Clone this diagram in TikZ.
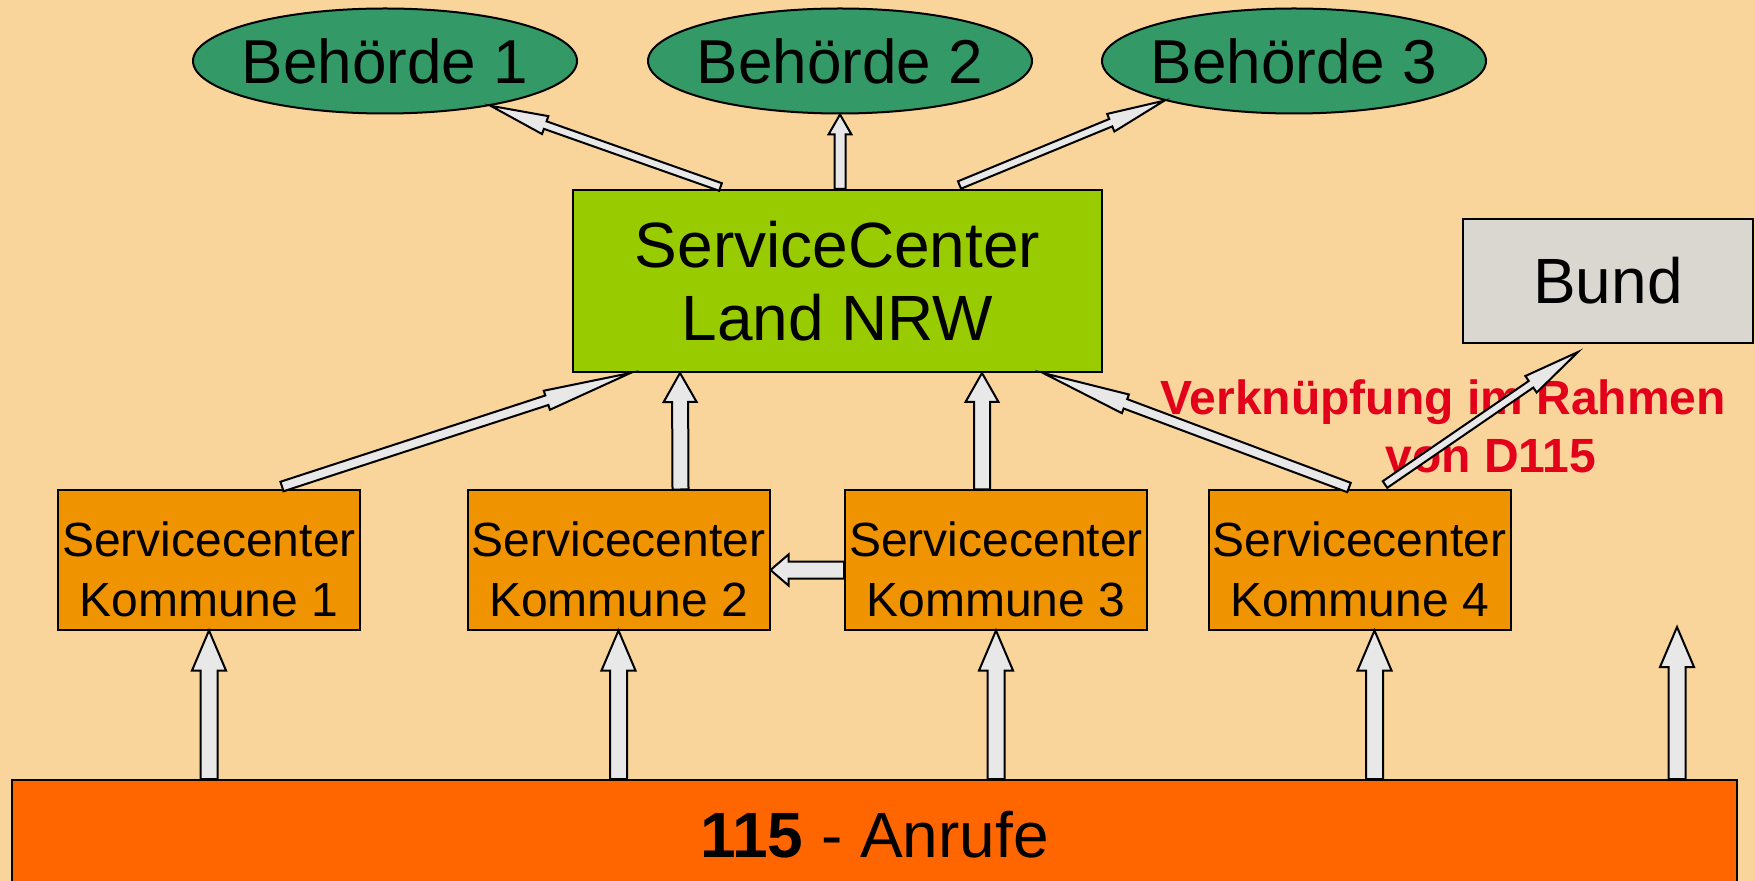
\documentclass[tikz,border=0pt]{standalone}
\usepackage{fontspec}
\setmainfont{Liberation Sans}
\usepackage{tikz}
\usetikzlibrary{shapes,positioning,calc}
\usepackage{xcolor}

\definecolor{bgorange}{HTML}{F9D59B}
\definecolor{behgreen}{HTML}{339966}
\definecolor{landgreen}{HTML}{99CC00}
\definecolor{komorange}{HTML}{F09300}
\definecolor{baror}{HTML}{FF6600}
\definecolor{bundgray}{HTML}{DAD7D1}
\definecolor{dred}{HTML}{E2001A}
\definecolor{arrgray}{HTML}{E8E8E8}

\tikzset{
  behoerde/.style={ellipse, draw, line width=1pt, fill=behgreen, inner xsep=-6pt, inner ysep=0pt,
    minimum width=192pt, minimum height=52.5pt, font=\fontsize{31}{37}\selectfont},
  landbox/.style={draw, line width=1pt, fill=landgreen, inner sep=0pt, align=center,
    minimum width=264.5pt, minimum height=91pt, font=\fontsize{32}{36.5}\selectfont},
  bundbox/.style={draw, line width=1pt, fill=bundgray, inner sep=0pt,
    minimum width=145pt, minimum height=62pt, font=\fontsize{32}{38}\selectfont},
  kommune/.style={draw, line width=1pt, fill=komorange, inner sep=0pt, align=center,
    minimum width=151pt, minimum height=69.5pt, font=\fontsize{24}{30}\selectfont},
  anrufe/.style={draw, line width=1pt, fill=baror, inner sep=0pt,
    minimum width=862.5pt, minimum height=55pt, font=\fontsize{32}{38}\selectfont},
  redtext/.style={text=dred, inner sep=0pt, align=left, font=\fontsize{24}{29}\selectfont\bfseries},
  arrowbody/.style={draw=black, line width=1pt, fill=arrgray, line join=miter}
}

% text of a Kommune box (rule pushes the lines down a bit)
\newcommand{\kommtext}[1]{\rule{0pt}{27pt}Servicecenter\\Kommune #1}

% block arrow: start, tip, shaft half width, head half width, head length
\newcommand{\blockarrow}[5]{%
  \coordinate (ba) at (#1);
  \coordinate (bt) at (#2);
  \coordinate (bh) at ($(bt)!#5!(ba)$);
  \draw[arrowbody] ($(ba)!#3!90:(bt)$) -- ($(bh)!#3!90:(bt)$) -- ($(bh)!#4!90:(bt)$)
    -- (bt) -- ($(bh)!#4!-90:(bt)$) -- ($(bh)!#3!-90:(bt)$) -- ($(ba)!#3!-90:(bt)$) -- cycle;
}

\begin{document}
\begin{tikzpicture}[x=0.5pt, y=-0.5pt]
  % Hintergrund
  \useasboundingbox (0,0) rectangle (1755,881);
  \fill[bgorange] (0,0) rectangle (1755,881);

  % Behoerden
  \node[behoerde] (b1) at (385,61) {Behörde 1};
  \node[behoerde] (b2) at (840,61) {Behörde 2};
  \node[behoerde] (b3) at (1294,61) {Behörde 3};

  % Land und Bund
  \node[landbox] (nrw) at (837.5,281) {ServiceCenter\\Land NRW};
  \node[bundbox] (bund) at (1608,281) {Bund};

  % Kommunen
  \node[kommune] (k1) at (209,560) {\kommtext{1}};
  \node[kommune] (k2) at (618.5,560) {\kommtext{2}};
  \node[kommune] (k3) at (996,560) {\kommtext{3}};
  \node[kommune] (k4) at (1359.5,560) {\kommtext{4}};

  % 115
  \node[anrufe] (bar) at (874.5,835) {\textbf{115} - Anrufe};
  \coordinate (free) at (1677,627);

  % D115
  \node[redtext, anchor=base west] (d115) at (1160,473)
    {Verknüpfung im Rahmen\\\hspace*{112.5pt}von D115};

  % Land -> Behoerden
  \blockarrow{$(nrw.north)+(-117,-2)$}{b1.-23}{2pt}{4.75pt}{29pt}
  \blockarrow{nrw.north -| b2.south}{b2.south}{2.75pt}{5.75pt}{10pt}
  \blockarrow{$(nrw.north)+(122,-4)$}{b3.197}{2pt}{4.75pt}{29pt}

  % Kommunen -> Land
  \blockarrow{$(k1.north)+(73,-3)$}{$(nrw.south)+(-207,0)$}{2.5pt}{5pt}{44pt}
  \blockarrow{$(k2.north)+(62,0)$}{$(nrw.south)+(-157.5,0)$}{4pt}{8.25pt}{14.5pt}
  \blockarrow{$(k3.north)+(-14,0)$}{$(nrw.south)+(144.5,0)$}{4pt}{8.25pt}{14.5pt}
  \blockarrow{$(k4.north)+(-10.5,-2)$}{$(nrw.south)+(205.5,0)$}{2.5pt}{5pt}{44pt}
  \blockarrow{$(k4.north)+(25.5,-5)$}{$(bund.south)+(-30,8)$}{2pt}{5pt}{28.5pt}
  \blockarrow{$(k3.west)+(0,10)$}{$(k2.east)+(0,10)$}{4.25pt}{7.75pt}{9pt}

  % 115 -> Kommunen
  \blockarrow{bar.north -| k1.south}{k1.south}{4.25pt}{8.5pt}{20pt}
  \blockarrow{bar.north -| k2.south}{k2.south}{4.25pt}{8.5pt}{20pt}
  \blockarrow{bar.north -| k3.south}{k3.south}{4.25pt}{8.5pt}{20pt}
  \blockarrow{$(bar.north -| k4.south)+(15,0)$}{$(k4.south)+(15,0)$}{4.25pt}{8.5pt}{20pt}
  \blockarrow{bar.north -| free}{free}{4.25pt}{8.5pt}{20pt}
\end{tikzpicture}
\end{document}
